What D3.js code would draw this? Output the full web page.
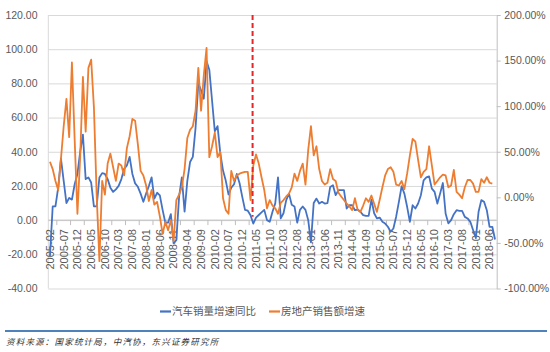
<!DOCTYPE html>
<html>
<head>
<meta charset="utf-8">
<script src="https://cdn.jsdelivr.net/npm/d3@7"></script>
<style>
  body { margin: 0; background: #fff; }
  svg { display: block; font-family: "Liberation Sans", Arial, sans-serif; }
</style>
</head>
<body>
<svg width="550" height="352"></svg>
<script>
// monthly yoy growth, left axis (%)
const carSales = [
  -21, 8, 8, 19, 36, 23, 10, 13, 12, 21,
  27, 40, 50, 24, 25, 22, 8, 8, 25, 27.5,
  27, 24, 19, 16.5, 18, 20, 24, 30, 32, 37,
  27, 21.5, 19.5, 15.5, 10.7, 15.5, 20, 25, 12.6, 16,
  14.5, 6, -1.5, -1.5, 3.5, -13.6, -11.7, 13.6, 25, 5,
  23, 34, 37, 54, 80, 76, 71, 93, 88, 70,
  52, 55, 39, 29, 23, 15, 19, 21, 27, 21.7,
  13.6, 6, 5.5, 2.9, -2, 1.5, 3, 4.5, 6, 0,
  -1, 4.9, 9.8, 25, 1, 4, 11.7, 15.5, 9, 8,
  -1.5, 6, 8, 6, 0, -13, 10, 12.6, 9.7, 10.7,
  9.7, 10, 19.4, 20.4, 14.6, 17.5, 17.5, 17.5, 6.8, 8.7,
  8.7, 5.8, 6.2, 4.9, 2.9, 2.5, 2.5, 12, 4, 1,
  1.5, -1, -2, -3.9, -6.8, -4.9, 2, 10.7, 19.8, 15.5,
  7.8, -1, 8.7, 6.8, 9.7, 14.6, 23.3, 25, 25.6, 18.4,
  16.5, 9.7, 15.5, 21.7, 3.9, -1.9, 0, 3.5, 5.8, 5.4,
  5.4, 1.9, 1, -1, -5.8, -10.5, 4.9, 11.7, 10.7, 5.8,
  -3.9, -3.9, -11.3
];

// property sales growth, right axis (%)
const propertySales = [
  39, 31, 18, 8, 42, 78, 108, 66, 148, 63,
  -18, 44, 132, 72, 142, 151, 99, 3, -70, 18,
  3, 37, 48, 33, 18, 37, 35, 24, 54, 67,
  86, 84, 58, 29, 24, 13, -4, 8, -8, -5,
  -21, -40, -27, -36, -25, -48, -3, 3, 11, 31,
  65, 74, 78, 95, 142, 95, 134, 164, 44, 56,
  71, 44, 50, -1, -14, -18, 29, 18, 24, 26,
  27, 28, 28, -3, 35, 47, 37, 22, 8, -12,
  -3, -9, -12, -18, -6, -3, 1, 4, 11, 26,
  18, 29, 37, 14, 52, 78, 46, 56, 31, 18,
  14, 16, 31, 20, 18, 5, 1, -3, -7, -10,
  -14, -1, -14, -16, -9, -1, -5, 2, -7, -16,
  -3, 11, 24, 31, 33, 28, 14, 13, 18, 9,
  26, 46, 64, 61, 41, 22, 28, 31, 56, 35,
  14, 18, 22, 25, 24, 11, 13, 30, 6, 3,
  -1, 11, 19, 19, 15, 6, 6, 20, 16, 22,
  16, 15
];

const leftTicks = [-40, -20, 0, 20, 40, 60, 80, 100, 120];
const rightTicks = [-100, -50, 0, 50, 100, 150, 200];
const seriesNames = ['汽车销量增速同比', '房地产销售额增速'];
const sourceText = '资料来源：国家统计局，中汽协，东兴证券研究所';
const markMonth = '2011-04';

// 2005-02 ... 2018-08
const months = d3.timeMonth.range(new Date(2005, 1, 1), new Date(2018, 8, 1))
  .map(d3.timeFormat('%Y-%m'));

const svg = d3.select('svg');
const width = +svg.attr('width');
const height = +svg.attr('height');
const margin = {top: 15, right: 53.3, bottom: 63.5, left: 48.3};
const innerWidth = width - margin.left - margin.right;
const innerHeight = height - margin.top - margin.bottom;

const blue = '#4472c4';
const orange = '#ed7d31';
const labelColor = '#595959';

const fmt = d3.formatLocale({decimal: '.', thousands: ',', grouping: [3], currency: ['', ''], minus: '-'}).format('.2f');

const xScale = d3.scalePoint().domain(months).range([0, innerWidth]).padding(0.6);
const yLeft = d3.scaleLinear().domain([-40, 120]).range([innerHeight, 0]);
const yRight = d3.scaleLinear().domain([-100, 200]).range([innerHeight, 0]);

const g = svg.append('g')
  .attr('transform', `translate(${margin.left},${margin.top})`);

// gridlines
g.append('g')
  .call(d3.axisLeft(yLeft).tickValues(leftTicks).tickSize(-innerWidth).tickFormat(''))
  .call(a => a.select('.domain').remove())
  .selectAll('line').attr('stroke', '#d9d9d9');

g.append('line')
  .attr('x1', 0).attr('x2', 0).attr('y1', 0).attr('y2', innerHeight)
  .attr('stroke', '#d9d9d9');

// left axis labels
g.append('g')
  .call(d3.axisLeft(yLeft).tickValues(leftTicks).tickSize(0).tickPadding(10.8).tickFormat(fmt))
  .call(a => a.select('.domain').remove())
  .selectAll('text')
    .attr('fill', labelColor)
    .style('font-size', '10.5px')
    .style('font-family', '"Liberation Sans", Arial, sans-serif');

// right axis
const rightG = g.append('g')
  .attr('transform', `translate(${innerWidth},0)`)
  .call(d3.axisRight(yRight).tickValues(rightTicks).tickSizeInner(4).tickSizeOuter(0)
    .tickPadding(3.5).tickFormat(d => fmt(d) + '%'));
rightG.select('.domain').attr('stroke', '#bfbfbf');
rightG.selectAll('.tick line').attr('stroke', '#bfbfbf');
rightG.selectAll('text')
  .attr('fill', labelColor)
  .style('font-size', '10.5px')
  .style('font-family', '"Liberation Sans", Arial, sans-serif');

// category axis at zero
const y0 = yLeft(0);
const step = xScale.step();
g.append('line')
  .attr('x1', 0).attr('x2', innerWidth).attr('y1', y0).attr('y2', y0)
  .attr('stroke', '#bfbfbf');

const labelMonths = months.filter((m, i) => i % 5 === 0);

g.append('g').selectAll('line')
  .data(labelMonths.slice(0, -1))
  .enter().append('line')
    .attr('x1', d => xScale(d) + 2.5 * step)
    .attr('x2', d => xScale(d) + 2.5 * step)
    .attr('y1', y0).attr('y2', y0 + 5)
    .attr('stroke', '#bfbfbf');

g.append('g').selectAll('text')
  .data(labelMonths)
  .enter().append('text')
    .attr('transform', d => `translate(${xScale(d)},${y0 + 9}) rotate(-90)`)
    .attr('text-anchor', 'end')
    .attr('dy', '0.35em')
    .attr('fill', labelColor)
    .style('font-size', '11px')
    .text(d => d);

// series
const lineLeft = d3.line()
  .x((d, i) => xScale(months[i]))
  .y(d => yLeft(d));
const lineRight = d3.line()
  .x((d, i) => xScale(months[i]))
  .y(d => yRight(d));

g.append('path')
  .datum(carSales)
  .attr('d', lineLeft)
  .attr('fill', 'none')
  .attr('stroke', blue)
  .attr('stroke-width', 1.8)
  .attr('stroke-linejoin', 'round');

g.append('path')
  .datum(propertySales)
  .attr('d', lineRight)
  .attr('fill', 'none')
  .attr('stroke', orange)
  .attr('stroke-width', 1.8)
  .attr('stroke-linejoin', 'round');

// marker line
const markX = xScale(markMonth) - 0.25 * step;
g.append('line')
  .attr('x1', markX).attr('x2', markX)
  .attr('y1', yLeft(120)).attr('y2', yLeft(2))
  .attr('stroke', '#e8262a')
  .attr('stroke-width', 2)
  .attr('stroke-dasharray', '5,3');

// legend
const legend = svg.append('g').attr('transform', 'translate(160,311.5)');
const legendItems = [
  {name: seriesNames[0], color: blue, x: 0},
  {name: seriesNames[1], color: orange, x: 109}
];
const item = legend.selectAll('g').data(legendItems).enter().append('g')
  .attr('transform', d => `translate(${d.x},0)`);
item.append('line')
  .attr('x1', 0).attr('x2', 11)
  .attr('stroke', d => d.color)
  .attr('stroke-width', 2.2);
item.append('text')
  .attr('x', 12)
  .attr('dy', '0.36em')
  .attr('fill', labelColor)
  .style('font-family', '"Noto Sans CJK SC", sans-serif')
  .style('font-size', '10.5px')
  .text(d => d.name);

// footer
svg.append('line')
  .attr('x1', 5).attr('x2', 547)
  .attr('y1', 331).attr('y2', 331)
  .attr('stroke', '#4f81bd')
  .attr('stroke-width', 2);

svg.append('text')
  .attr('x', 6).attr('y', 345)
  .attr('fill', '#333')
  .style('font-family', '"Noto Sans CJK SC", sans-serif')
  .style('font-size', '8.5px')
  .style('font-style', 'italic')
  .style('letter-spacing', '1.2px')
  .text(sourceText);
</script>
</body>
</html>
